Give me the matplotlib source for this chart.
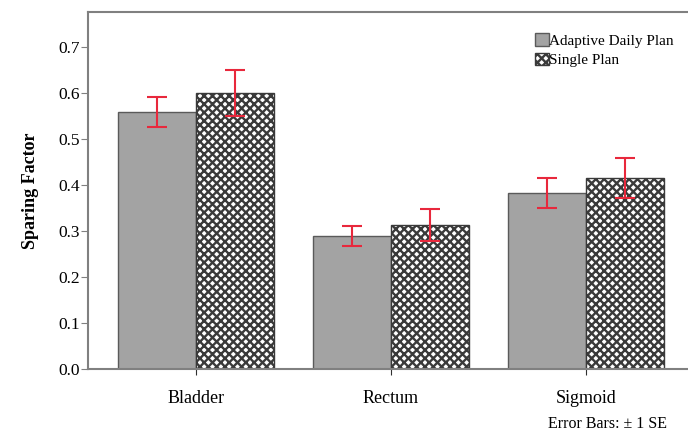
import matplotlib
matplotlib.use('Agg')
import matplotlib.pyplot as plt
from matplotlib.patches import Patch
import numpy as np

# Sparing factor per organ, mean and standard error for each plan type
organs = ['Bladder', 'Rectum', 'Sigmoid']
adaptive_mean = [0.559, 0.289, 0.383]
adaptive_se = [0.033, 0.022, 0.033]
single_mean = [0.599, 0.313, 0.415]
single_se = [0.050, 0.034, 0.044]

plt.rcParams['font.family'] = ['Liberation Serif', 'DejaVu Serif']
plt.rcParams['hatch.linewidth'] = 1.7
plt.rcParams['hatch.color'] = '#1e1e1e'

fig = plt.figure(figsize=(6.88, 4.36), dpi=100)
ax = fig.add_axes([0.128, 0.1537, 0.872, 0.8188])

x = np.arange(len(organs))
width = 0.4
axis_grey = '#808080'
err_red = '#e8283c'

ax.bar(x - width / 2, adaptive_mean, width, color='#a3a3a3',
       edgecolor='#5a5a5a', linewidth=1.0, zorder=2)
ax.bar(x + width / 2, single_mean, width, color='white',
       edgecolor='#3a3a3a', hatch='xxxx', linewidth=1.0, zorder=2)

ax.errorbar(x - width / 2, adaptive_mean, yerr=adaptive_se, fmt='none',
            ecolor=err_red, elinewidth=1.5, capsize=7, capthick=1.5, zorder=3)
ax.errorbar(x + width / 2, single_mean, yerr=single_se, fmt='none',
            ecolor=err_red, elinewidth=1.5, capsize=7, capthick=1.5, zorder=3)

ax.set_xlim(-0.554, 2.523)
ax.set_ylim(0, 0.776)
ax.set_yticks(np.arange(0, 0.71, 0.1))
ax.set_yticklabels(['%.1f' % v for v in np.arange(0, 0.71, 0.1)], fontsize=12.5)
ax.set_xticks(x)
ax.set_xticklabels(organs, fontsize=13)
ax.tick_params(axis='y', direction='out', length=5, color=axis_grey, pad=1)
ax.tick_params(axis='x', direction='out', length=4, color='#303030', pad=11)

for side in ['left', 'bottom', 'top']:
    ax.spines[side].set_color(axis_grey)
    ax.spines[side].set_linewidth(1.5)
ax.spines['right'].set_visible(False)

ax.set_ylabel('Sparing Factor', fontsize=13, fontweight='bold', labelpad=14)

handles = [Patch(facecolor='#a3a3a3', edgecolor='#5a5a5a', label='Adaptive Daily Plan'),
           Patch(facecolor='white', edgecolor='#3a3a3a', hatch='xxxx', label='Single Plan')]
ax.legend(handles=handles, loc='upper left', bbox_to_anchor=(0.735, 0.957),
          frameon=False, fontsize=11, handlelength=0.9, handleheight=0.9,
          handletextpad=0.0, labelspacing=0.3, borderaxespad=0)

fig.text(0.797, 0.010, 'Error Bars: \u00b1 1 SE', fontsize=11.5, ha='left', va='bottom')

fig.savefig('out.png', dpi=100)
